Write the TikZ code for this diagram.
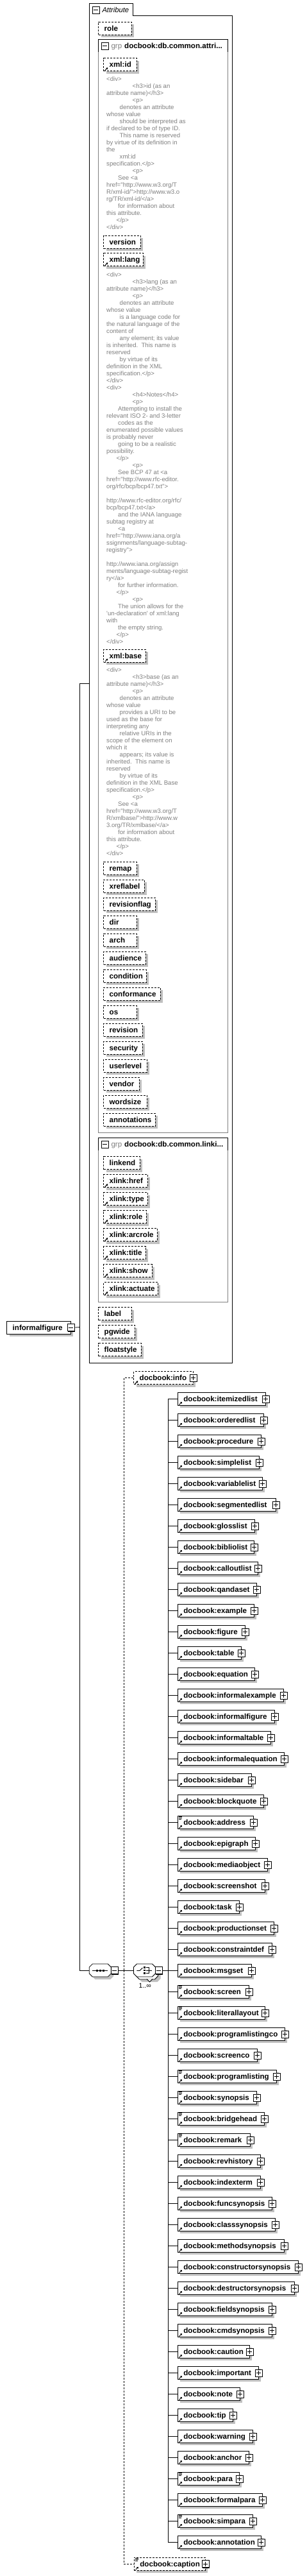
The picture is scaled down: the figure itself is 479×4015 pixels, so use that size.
\documentclass[tikz,border=0pt]{standalone}
\usepackage{fontspec}
\setmainfont{Liberation Sans}
\newfontfamily\annfont{Liberation Sans}
\usetikzlibrary{shadows,arrows.meta}
\definecolor{shd}{RGB}{192,192,192}
\definecolor{gtx}{RGB}{128,128,128}
\newcommand\iA{\hspace*{20.5pt}}
\newcommand\iB{\hspace*{18pt}}
\newcommand\iC{\hspace*{15.5pt}}
\newcommand\iD{\hspace*{40.5pt}}
\tikzset{
 lbl/.style={font=\bfseries\fontsize{11.6}{13}\selectfont, text height=8.4pt, text depth=0pt},
 attrbox/.style={lbl, draw, line width=0.8pt, dash pattern=on 3pt off 2pt, fill=white, minimum height=20, inner xsep=0pt, inner ysep=0pt,
   drop shadow={shadow xshift=4pt, shadow yshift=-4pt, fill=shd, opacity=1}},
 elem/.style={lbl, draw, line width=0.8pt, fill=white, minimum height=20, inner xsep=0pt, inner ysep=0pt,
   drop shadow={shadow xshift=4pt, shadow yshift=-4pt, fill=shd, opacity=1}},
 pmbox/.style={draw, fill=white, line width=0.8pt, minimum size=11, inner sep=0pt,
   drop shadow={shadow xshift=1pt, shadow yshift=-1pt, fill=black, opacity=1}},
 plusbox/.style={pmbox, path picture={\draw[line width=0.8pt] ([xshift=2pt]path picture bounding box.west) -- ([xshift=-2pt]path picture bounding box.east);
   \draw[line width=0.8pt] ([yshift=-2pt]path picture bounding box.north) -- ([yshift=2pt]path picture bounding box.south);}},
 minusbox/.style={pmbox, path picture={\draw[line width=0.8pt] ([xshift=2pt]path picture bounding box.west) -- ([xshift=-2pt]path picture bounding box.east);}},
 ann/.style={anchor=north west, inner sep=0pt, align=left, text=gtx, font=\annfont\fontsize{9.6}{11}\selectfont},
 conn/.style={line width=0.8pt},
 dconn/.style={line width=0.8pt, dash pattern=on 3pt off 2pt},
}
\newcommand\refic[1]{\draw[line width=0.9pt, -{Triangle[length=2.5pt,width=3.2pt]}] ([xshift=2.5pt,yshift=1.3pt]#1.south west) -- ++(4.5pt,4.5pt);}
\newcommand\mixic[1]{\draw[line width=0.7pt] ([xshift=2.3pt,yshift=-1.6pt]#1.north west) -- ++(4.8pt,0pt) ([xshift=2.3pt,yshift=-3.6pt]#1.north west) -- ++(4.8pt,0pt) ([xshift=2.3pt,yshift=-5.6pt]#1.north west) -- ++(3.6pt,0pt);}
\newcommand\ab[6]{%
 \pgfmathsetmacro\bw{#4-#2}%
 \node[attrbox, anchor=north west, minimum width=\bw] (#1) at (#2,#3) {\hbox to \bw pt{\hskip9pt #5\hfil}};%
 \ifnum#6=1 \refic{#1}\fi}
\newcommand\octo[3]{\path[#3] (#1-17,#2-5) -- (#1-17,#2+5) -- (#1-12,#2+10) -- (#1+12,#2+10) -- (#1+17,#2+5) -- (#1+17,#2-5) -- (#1+12,#2-10) -- (#1-12,#2-10) -- cycle;}
\begin{document}
\begin{tikzpicture}[x=1pt,y=-1pt]
\useasboundingbox (0,0) rectangle (479,4015);
\fill[white] (0,0) rectangle (479,4015);

% ---------- attribute container ----------
\node[inner sep=0pt, minimum width=223, minimum height=2119, anchor=north west] (attr) at (139.3,5.3) {};
\draw[conn] (attr.south west) -- (attr.north west) -- ++(68,0) -- ++(0,19) -- ([yshift=-19pt]attr.north east) -- (attr.south east) -- cycle;
\node[minusbox] (am) at (149.8,15.8) {};
\node[anchor=base west, inner sep=0pt, font=\itshape\fontsize{11.2}{13}\selectfont] (atit) at (159.3,19.2) {Attribute};

\ab{aRole}{153.3}{33.7}{204.7}{role}{0}

% group 1
\node[inner sep=0pt, minimum width=201.4, minimum height=1704, anchor=north west] (g1) at (153.3,61.3) {};
\draw[conn, gtx] ([yshift=-19.4pt]g1.north west) -- (g1.south west) -- (g1.south east) -- ([yshift=-19.4pt]g1.north east);
\draw[conn] ([yshift=-19.4pt]g1.north west) -- (g1.north west) -- (g1.north east) -- ([yshift=-19.4pt]g1.north east);
\node[minusbox] (g1m) at (163.8,71.5) {};
\node[anchor=base west, inner sep=0pt, text=gtx, font=\fontsize{11.6}{13}\selectfont] (g1k) at (173.3,75.3) {grp};
\node[anchor=base west, inner sep=0pt, font=\bfseries\fontsize{11.6}{13}\selectfont] (g1n) at (194,75.3) {docbook:db.common.attri...};

\ab{aId}{161.3}{90.3}{212.7}{xml:id}{1}
\node[ann] (a1) at (166,118.8) {\strut<div>\\
\iD<h3>id (as an\\
attribute name)</h3>\\
\iD<p>\\
\iA denotes an attribute\\
whose value\\
\iA should be interpreted as\\
if declared to be of type ID.\\
\iA This name is reserved\\
by virtue of its definition in\\
the\\
\iA xml:id\\
specification.</p>\\
\iD<p>\\
\iB See <a\\
href="http://www.w3.org/T\\
R/xml-id/">http://www.w3.o\\
rg/TR/xml-id/</a>\\
\iB for information about\\
this attribute.\\
\iC</p>\\
</div>};

\ab{aVersion}{161.3}{366.7}{219}{version}{0}
\ab{aLang}{161.3}{394.3}{222.7}{xml:lang}{1}
\node[ann] (a2) at (166,423.1) {\strut<div>\\
\iD<h3>lang (as an\\
attribute name)</h3>\\
\iD<p>\\
\iA denotes an attribute\\
whose value\\
\iA is a language code for\\
the natural language of the\\
content of\\
\iA any element; its value\\
is inherited.\ \ This name is\\
reserved\\
\iA by virtue of its\\
definition in the XML\\
specification.</p>\\
</div>\\
<div>\\
\iD<h4>Notes</h4>\\
\iD<p>\\
\iB Attempting to install the\\
relevant ISO 2- and 3-letter\\
\iB codes as the\\
enumerated possible values\\
is probably never\\
\iB going to be a realistic\\
possibility.\\
\iC</p>\\
\iD<p>\\
\iB See BCP 47 at <a\\
href="http://www.rfc-editor.\\
org/rfc/bcp/bcp47.txt">\\
\mbox{}\\
http://www.rfc-editor.org/rfc/\\
bcp/bcp47.txt</a>\\
\iB and the IANA language\\
subtag registry at\\
\iB <a\\
href="http://www.iana.org/a\\
ssignments/language-subtag-\\
registry">\\
\mbox{}\\
http://www.iana.org/assign\\
ments/language-subtag-regist\\
ry</a>\\
\iB for further information.\\
\iC</p>\\
\iD<p>\\
\iB The union allows for the\\
'un-declaration' of xml:lang\\
with\\
\iB the empty string.\\
\iC</p>\\
</div>};

\ab{aBase}{161.3}{1011.7}{226.7}{xml:base}{1}
\node[ann] (a3) at (166,1039.8) {\strut<div>\\
\iD<h3>base (as an\\
attribute name)</h3>\\
\iD<p>\\
\iA denotes an attribute\\
whose value\\
\iA provides a URI to be\\
used as the base for\\
interpreting any\\
\iA relative URIs in the\\
scope of the element on\\
which it\\
\iA appears; its value is\\
inherited.\ \ This name is\\
reserved\\
\iA by virtue of its\\
definition in the XML Base\\
specification.</p>\\
\iD<p>\\
\iB See <a\\
href="http://www.w3.org/T\\
R/xmlbase/">http://www.w\\
3.org/TR/xmlbase/</a>\\
\iB for information about\\
this attribute.\\
\iC</p>\\
</div>};

\ab{aRemap}{161.3}{1342.7}{212.7}{remap}{0}
\ab{aXreflabel}{161.3}{1370.7}{224.7}{xreflabel}{0}
\ab{aRevflag}{161.3}{1398.7}{241.7}{revisionflag}{0}
\ab{aDir}{161.3}{1426.7}{212.7}{dir}{0}
\ab{aArch}{161.3}{1454.7}{212.7}{arch}{0}
\ab{aAudience}{161.3}{1482.7}{226.7}{audience}{0}
\ab{aCondition}{161.3}{1510.7}{227.7}{condition}{0}
\ab{aConformance}{161.3}{1538.7}{249.7}{conformance}{0}
\ab{aOs}{161.3}{1566.7}{212.7}{os}{0}
\ab{aRevision}{161.3}{1594.7}{221.7}{revision}{0}
\ab{aSecurity}{161.3}{1622.7}{221.7}{security}{0}
\ab{aUserlevel}{161.3}{1650.7}{228.7}{userlevel}{0}
\ab{aVendor}{161.3}{1678.7}{216.7}{vendor}{0}
\ab{aWordsize}{161.3}{1706.7}{228.7}{wordsize}{0}
\ab{aAnnotations}{161.3}{1734.7}{241.7}{annotations}{0}

% group 2
\node[inner sep=0pt, minimum width=201.4, minimum height=256, anchor=north west] (g2) at (153.3,1773.3) {};
\draw[conn, gtx] ([yshift=-19.4pt]g2.north west) -- (g2.south west) -- (g2.south east) -- ([yshift=-19.4pt]g2.north east);
\draw[conn] ([yshift=-19.4pt]g2.north west) -- (g2.north west) -- (g2.north east) -- ([yshift=-19.4pt]g2.north east);
\node[minusbox] (g2m) at (163.8,1783.5) {};
\node[anchor=base west, inner sep=0pt, text=gtx, font=\fontsize{11.6}{13}\selectfont] (g2k) at (173.3,1787.3) {grp};
\node[anchor=base west, inner sep=0pt, font=\bfseries\fontsize{11.6}{13}\selectfont] (g2n) at (194,1787.3) {docbook:db.common.linki...};

\ab{aLinkend}{161.3}{1802.3}{217.7}{linkend}{0}
\ab{aXhref}{161.3}{1830.3}{229.7}{xlink:href}{1}
\ab{aXtype}{161.3}{1858.3}{229.7}{xlink:type}{1}
\ab{aXrole}{161.3}{1886.3}{227.7}{xlink:role}{1}
\ab{aXarcrole}{161.3}{1914.3}{244.7}{xlink:arcrole}{1}
\ab{aXtitle}{161.3}{1942.3}{226.7}{xlink:title}{1}
\ab{aXshow}{161.3}{1970.3}{236.7}{xlink:show}{1}
\ab{aXactuate}{161.3}{1998.3}{245.7}{xlink:actuate}{1}

\ab{aLabel}{153.3}{2037.3}{204.7}{label}{0}
\ab{aPgwide}{153.3}{2065.3}{209.7}{pgwide}{0}
\ab{aFloatstyle}{153.3}{2093.3}{219.7}{floatstyle}{0}

% ---------- root ----------
\node[elem, anchor=north west, minimum width=99.4] (root) at (10.3,2058.7) {\hbox to 99.4pt{\hskip9pt informalfigure\hfil}};
\node[minusbox] (rootm) at (root.east) {};
\coordinate (j) at (124.3,2068.5);
\draw[conn] (rootm.east) -- (j);
\draw[conn] (j) |- (attr.west);

% ---------- sequence ----------
\node[inner sep=0pt, minimum width=34, minimum height=20] (seq) at (156.3,3071) {};
\octo{160.3}{3075}{fill=shd}
\octo{156.3}{3071}{draw, fill=white, line width=0.8pt}
\draw[line width=0.8pt] (144.3,3071) -- (168.3,3071);
\foreach \dx in {151,156.3,161.6} \fill (\dx-1.5,3069.5) rectangle (\dx+1.5,3072.5);
\node[minusbox] (seqm) at (178.8,3071) {};
\draw[conn] (j) |- (seq.west);

% ---------- choice ----------
\node[inner sep=0pt, minimum width=34, minimum height=20] (choice) at (225.5,3071) {};
\octo{233.5}{3079}{fill=shd}
\octo{229.5}{3075}{draw, fill=white, line width=0.8pt}
\octo{225.5}{3071}{draw, fill=white, line width=0.8pt}
\draw[line width=0.8pt, fill=white] (229,3084.5) -- (233.5,3089) -- (238,3084.5);
\draw[line width=0.8pt] (213.3,3071.5) -- (218,3071.5) -- (222.5,3067);
\foreach \dy in {3066.7,3071,3075.3} \fill (224.3,\dy-1.3) rectangle (226.9,\dy+1.3);
\draw[line width=0.8pt] (227.5,3066.7) -- (232.5,3066.7) -- (232.5,3075.3) -- (227.5,3075.3) (227.5,3071) -- (237,3071);
\node[minusbox] (chm) at (247.8,3071) {};
\node[inner sep=0pt, font=\fontsize{10.5}{12}\selectfont] (mult) at (226.3,3095.3) {1..∞};
\draw[conn] (seqm.east) -- (choice.west);

% ---------- info / caption ----------
\coordinate (sb) at (193.3,3071);
\ab{info}{208.3}{2137.3}{300.7}{docbook:info}{1}
\node[plusbox] (infop) at (info.east) {};
\ab{caption}{209}{3985.7}{320}{docbook:caption}{1}
\mixic{caption}
\node[plusbox] (captionp) at (caption.east) {};
\draw[dconn] (sb) |- (info.west);
\draw[dconn] (sb) |- (caption.west);

% ---------- choice children ----------
\coordinate (bus) at (262.3,3071);
\draw[conn] (chm.east) -- (bus);
\foreach \i/\nm/\r/\m in {1/itemizedlist/413.7/0, 2/orderedlist/410.7/0, 3/procedure/406.7/0, 4/simplelist/403.7/0, 5/variablelist/408.7/0, 6/segmentedlist/429.7/0, 7/glosslist/396.7/0, 8/bibliolist/395.7/0, 9/calloutlist/401.7/0, 10/qandaset/399.7/0, 11/example/395.7/0, 12/figure/381.7/0, 13/table/375.7/0, 14/equation/396.7/0, 15/informalexample/441.7/0, 16/informalfigure/427.7/0, 17/informaltable/421.7/0, 18/informalequation/442.7/0, 19/sidebar/391.7/0, 20/blockquote/410.7/0, 21/address/394.7/1, 22/epigraph/397.7/0, 23/mediaobject/416.7/0, 24/screenshot/412.7/0, 25/task/372.7/0, 26/productionset/426.7/0, 27/constraintdef/423.7/0, 28/msgset/391.7/0, 29/screen/387.7/1, 30/literallayout/412.7/1, 31/programlistingco/443.7/0, 32/screenco/400.7/0, 33/programlisting/430.7/1, 34/synopsis/399.7/1, 35/bridgehead/411.7/1, 36/remark/389.7/1, 37/revhistory/405.7/0, 38/indexterm/405.7/0, 39/funcsynopsis/423.7/0, 40/classsynopsis/428.7/0, 41/methodsynopsis/442.7/0, 42/constructorsynopsis/464.7/0, 43/destructorsynopsis/458.7/0, 44/fieldsynopsis/423.7/0, 45/cmdsynopsis/423.7/0, 46/caution/388.7/0, 47/important/402.7/0, 48/note/373.7/0, 49/tip/362.7/0, 50/warning/393.7/0, 51/anchor/387.7/0, 52/para/372.7/1, 53/formalpara/408.7/0, 54/simpara/393.7/1, 55/annotation/406.7/0} {
  \pgfmathsetmacro\yy{2180.4+(\i-1)*33}
  \pgfmathsetmacro\bw{\r-277}
  \node[elem, anchor=west, minimum width=\bw] (e\i) at (277,\yy) {\hbox to \bw pt{\hskip9pt docbook:\nm\hfil}};
  \refic{e\i}
  \ifnum\m=1 \mixic{e\i}\fi
  \node[plusbox] (p\i) at ([xshift=0.3pt]e\i.east) {};
  \draw[conn] (bus) |- (e\i.west);
}
\end{tikzpicture}
\end{document}
